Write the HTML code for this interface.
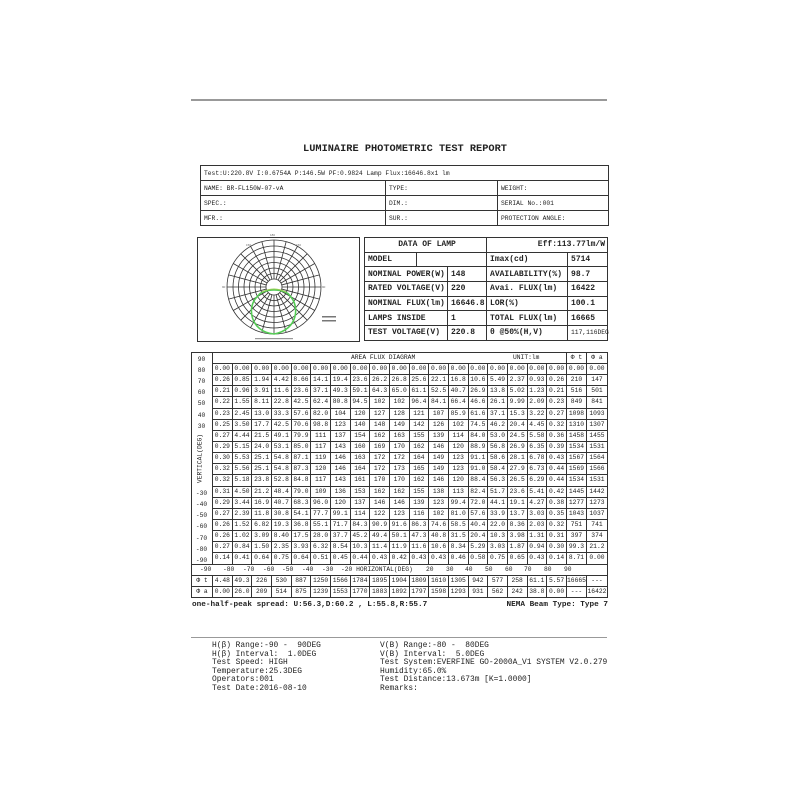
<!DOCTYPE html>
<html><head><meta charset="utf-8"><style>
*{margin:0;padding:0;box-sizing:border-box}
body{width:800px;height:800px;background:#fff;position:relative;overflow:hidden;font-family:"Liberation Mono",monospace;color:#222}
.a{position:absolute;white-space:pre}
table{border-collapse:collapse;table-layout:fixed;position:absolute}
td{border:1px solid #333;overflow:visible;white-space:nowrap;padding:0}
#hd td{font-size:6.3px;padding-left:3px;height:15px}
#lp td{font-size:8px;font-weight:bold;padding-left:3px;height:14.7px}
#fx td{font-size:6.3px;text-align:center;height:11.15px;line-height:10px}
#fx tr.h td{height:8px}
</style></head><body>
<div class="a" style="left:191px;top:99px;width:416px;height:2px;background:#999"></div>
<div class="a" style="left:0;width:810px;top:143px;text-align:center;font-size:10.3px;font-weight:bold">LUMINAIRE PHOTOMETRIC TEST REPORT</div>

<table id="hd" style="left:200px;top:165px;width:408px">
<colgroup><col style="width:185px"><col style="width:112px"><col style="width:111px"></colgroup>
<tr><td colspan="3">Test:U:220.8V I:0.6754A P:146.5W PF:0.9824  Lamp Flux:16646.8x1 lm</td></tr>
<tr><td>NAME: BR-FL150W-07-vA</td><td>TYPE:</td><td>WEIGHT:</td></tr>
<tr><td>SPEC.:</td><td>DIM.:</td><td>SERIAL No.:001</td></tr>
<tr><td>MFR.:</td><td>SUR.:</td><td>PROTECTION ANGLE:</td></tr>
</table>

<svg class="a" style="left:0;top:0" width="800" height="800">
<rect x="197.5" y="237.5" width="162" height="104" fill="none" stroke="#333"/>
<g fill="none" stroke="#333" stroke-width="0.8">
<circle cx="274" cy="287" r="47"/><circle cx="274" cy="287" r="41"/><circle cx="274" cy="287" r="35.5"/><circle cx="274" cy="287" r="30"/><circle cx="274" cy="287" r="24.5"/><circle cx="274" cy="287" r="19"/><circle cx="274" cy="287" r="13.5"/><circle cx="274" cy="287" r="8"/>
<path d="M274 279V240M274 295V334M266 287H227M282 287H321
M276.07 279.27L286.17 241.6M271.93 279.27L261.83 241.6M276.07 294.73L286.17 332.4M271.93 294.73L261.83 332.4
M278 280.07L297.5 246.3M270 280.07L250.5 246.3M278 293.93L297.5 327.7M270 293.93L250.5 327.7
M279.66 281.34L307.2 253.8M268.34 281.34L240.8 253.8M279.66 292.66L307.2 320.2M268.34 292.66L240.8 320.2
M280.93 283L314.7 263.5M267.07 283L233.3 263.5M280.93 291L314.7 310.5M267.07 291L233.3 310.5
M281.73 284.93L319.4 274.83M266.27 284.93L228.6 274.83M281.73 289.07L319.4 299.17M266.27 289.07L228.6 299.17"/>
</g>
<g fill="#666" font-size="3" font-family="Liberation Sans"><text x="270" y="236">180</text><text x="222" y="288">90</text><text x="322" y="288">90</text><text x="246" y="246">150</text><text x="296" y="246">150</text></g>
<path d="M258 296 C262 288 286 288 290 296 C300 306 298 330 274 334 C250 332 246 306 258 296Z" fill="none" stroke="#5c5" stroke-width="1.6"/>
<path d="M262 292 C270 288 278 288 286 292" fill="none" stroke="#9c5" stroke-width="1"/>
<rect x="322" y="316" width="14" height="1.5" fill="#777"/><rect x="322" y="320" width="14" height="1.5" fill="#777"/>
<rect x="255" y="338" width="38" height="1.2" fill="#999"/>
</svg>

<table id="lp" style="left:364px;top:237px;width:243px">
<colgroup><col style="width:52px"><col style="width:31px"><col style="width:39px"><col style="width:81px"><col style="width:40px"></colgroup>
<tr><td colspan="3" style="text-align:center">DATA OF LAMP</td><td colspan="2" style="text-align:right;padding-right:2px">Eff:113.77lm/W</td></tr>
<tr><td>MODEL</td><td colspan="2"></td><td>Imax(cd)</td><td>5714</td></tr>
<tr><td colspan="2">NOMINAL POWER(W)</td><td>148</td><td>AVAILABILITY(%)</td><td>98.7</td></tr>
<tr><td colspan="2">RATED VOLTAGE(V)</td><td>220</td><td>Avai. FLUX(lm)</td><td>16422</td></tr>
<tr><td colspan="2">NOMINAL FLUX(lm)</td><td>16646.8</td><td>LOR(%)</td><td>100.1</td></tr>
<tr><td colspan="2">LAMPS INSIDE</td><td>1</td><td>TOTAL FLUX(lm)</td><td>16665</td></tr>
<tr><td colspan="2">TEST VOLTAGE(V)</td><td>220.8</td><td>θ @50%(H,V)</td><td style="font-size:6.3px;font-weight:normal">117,116DEG</td></tr>
</table>

<table id="fx" style="left:191px;top:352px;width:416px">
<colgroup><col style="width:21px"><col span="18" style="width:19.67px"><col style="width:20px"><col style="width:21px"></colgroup>
<tr class="h"><td rowspan="19" style="border-bottom:1px solid #333"></td><td colspan="18" style="position:relative"><span style="position:absolute;left:138px;top:0">AREA FLUX DIAGRAM</span><span style="position:absolute;left:300px;top:0">UNIT:lm</span></td><td>Φ t</td><td>Φ a</td></tr>
<tr><td>0.00</td><td>0.00</td><td>0.00</td><td>0.00</td><td>0.00</td><td>0.00</td><td>0.00</td><td>0.00</td><td>0.00</td><td>0.00</td><td>0.00</td><td>0.00</td><td>0.00</td><td>0.00</td><td>0.00</td><td>0.00</td><td>0.00</td><td>0.00</td><td>0.00</td><td>0.00</td></tr>
<tr><td>0.26</td><td>0.85</td><td>1.94</td><td>4.42</td><td>8.66</td><td>14.1</td><td>19.4</td><td>23.6</td><td>26.2</td><td>26.8</td><td>25.6</td><td>22.1</td><td>16.8</td><td>10.6</td><td>5.49</td><td>2.37</td><td>0.93</td><td>0.26</td><td>210</td><td>147</td></tr>
<tr><td>0.21</td><td>0.96</td><td>3.91</td><td>11.6</td><td>23.6</td><td>37.1</td><td>49.3</td><td>59.1</td><td>64.3</td><td>65.0</td><td>61.1</td><td>52.5</td><td>40.7</td><td>26.9</td><td>13.8</td><td>5.02</td><td>1.23</td><td>0.21</td><td>516</td><td>501</td></tr>
<tr><td>0.22</td><td>1.55</td><td>8.11</td><td>22.8</td><td>42.5</td><td>62.4</td><td>80.8</td><td>94.5</td><td>102</td><td>102</td><td>96.4</td><td>84.1</td><td>66.4</td><td>46.6</td><td>26.1</td><td>9.99</td><td>2.09</td><td>0.23</td><td>849</td><td>841</td></tr>
<tr><td>0.23</td><td>2.45</td><td>13.0</td><td>33.3</td><td>57.6</td><td>82.0</td><td>104</td><td>120</td><td>127</td><td>128</td><td>121</td><td>107</td><td>85.9</td><td>61.6</td><td>37.1</td><td>15.3</td><td>3.22</td><td>0.27</td><td>1098</td><td>1093</td></tr>
<tr><td>0.25</td><td>3.50</td><td>17.7</td><td>42.5</td><td>70.6</td><td>98.8</td><td>123</td><td>140</td><td>148</td><td>149</td><td>142</td><td>126</td><td>102</td><td>74.5</td><td>46.2</td><td>20.4</td><td>4.45</td><td>0.32</td><td>1310</td><td>1307</td></tr>
<tr><td>0.27</td><td>4.44</td><td>21.5</td><td>49.1</td><td>79.9</td><td>111</td><td>137</td><td>154</td><td>162</td><td>163</td><td>155</td><td>139</td><td>114</td><td>84.0</td><td>53.0</td><td>24.5</td><td>5.58</td><td>0.36</td><td>1458</td><td>1455</td></tr>
<tr><td>0.29</td><td>5.15</td><td>24.0</td><td>53.1</td><td>85.0</td><td>117</td><td>143</td><td>160</td><td>169</td><td>170</td><td>162</td><td>146</td><td>120</td><td>88.9</td><td>56.8</td><td>26.9</td><td>6.35</td><td>0.39</td><td>1534</td><td>1531</td></tr>
<tr><td>0.30</td><td>5.53</td><td>25.1</td><td>54.8</td><td>87.1</td><td>119</td><td>146</td><td>163</td><td>172</td><td>172</td><td>164</td><td>149</td><td>123</td><td>91.1</td><td>58.6</td><td>28.1</td><td>6.78</td><td>0.43</td><td>1567</td><td>1564</td></tr>
<tr><td>0.32</td><td>5.56</td><td>25.1</td><td>54.8</td><td>87.3</td><td>120</td><td>146</td><td>164</td><td>172</td><td>173</td><td>165</td><td>149</td><td>123</td><td>91.0</td><td>58.4</td><td>27.9</td><td>6.73</td><td>0.44</td><td>1569</td><td>1566</td></tr>
<tr><td>0.32</td><td>5.18</td><td>23.8</td><td>52.8</td><td>84.8</td><td>117</td><td>143</td><td>161</td><td>170</td><td>170</td><td>162</td><td>146</td><td>120</td><td>88.4</td><td>56.3</td><td>26.5</td><td>6.29</td><td>0.44</td><td>1534</td><td>1531</td></tr>
<tr><td>0.31</td><td>4.50</td><td>21.2</td><td>48.4</td><td>79.0</td><td>109</td><td>136</td><td>153</td><td>162</td><td>162</td><td>155</td><td>138</td><td>113</td><td>82.4</td><td>51.7</td><td>23.6</td><td>5.41</td><td>0.42</td><td>1445</td><td>1442</td></tr>
<tr><td>0.29</td><td>3.44</td><td>16.9</td><td>40.7</td><td>68.3</td><td>96.0</td><td>120</td><td>137</td><td>146</td><td>146</td><td>139</td><td>123</td><td>99.4</td><td>72.0</td><td>44.1</td><td>19.1</td><td>4.27</td><td>0.38</td><td>1277</td><td>1273</td></tr>
<tr><td>0.27</td><td>2.39</td><td>11.8</td><td>30.8</td><td>54.1</td><td>77.7</td><td>99.1</td><td>114</td><td>122</td><td>123</td><td>116</td><td>102</td><td>81.0</td><td>57.6</td><td>33.9</td><td>13.7</td><td>3.03</td><td>0.35</td><td>1043</td><td>1037</td></tr>
<tr><td>0.26</td><td>1.52</td><td>6.82</td><td>19.3</td><td>36.8</td><td>55.1</td><td>71.7</td><td>84.3</td><td>90.9</td><td>91.6</td><td>86.3</td><td>74.6</td><td>58.5</td><td>40.4</td><td>22.0</td><td>8.36</td><td>2.03</td><td>0.32</td><td>751</td><td>741</td></tr>
<tr><td>0.26</td><td>1.02</td><td>3.09</td><td>8.40</td><td>17.5</td><td>28.0</td><td>37.7</td><td>45.2</td><td>49.4</td><td>50.1</td><td>47.3</td><td>40.8</td><td>31.5</td><td>20.4</td><td>10.3</td><td>3.98</td><td>1.31</td><td>0.31</td><td>397</td><td>374</td></tr>
<tr><td>0.27</td><td>0.84</td><td>1.50</td><td>2.35</td><td>3.93</td><td>6.32</td><td>8.54</td><td>10.3</td><td>11.4</td><td>11.9</td><td>11.6</td><td>10.6</td><td>8.34</td><td>5.29</td><td>3.03</td><td>1.87</td><td>0.94</td><td>0.30</td><td>99.3</td><td>21.2</td></tr>
<tr><td>0.14</td><td>0.41</td><td>0.64</td><td>0.75</td><td>0.64</td><td>0.51</td><td>0.45</td><td>0.44</td><td>0.43</td><td>0.42</td><td>0.43</td><td>0.43</td><td>0.46</td><td>0.58</td><td>0.75</td><td>0.65</td><td>0.43</td><td>0.14</td><td>8.71</td><td>0.00</td></tr>
<tr><td colspan="21" style="position:relative"><span class="a" style="left:8px;top:0">-90</span><span class="a" style="left:31px;top:0">-80</span><span class="a" style="left:51px;top:0">-70</span><span class="a" style="left:71px;top:0">-60</span><span class="a" style="left:90px;top:0">-50</span><span class="a" style="left:110px;top:0">-40</span><span class="a" style="left:130px;top:0">-30</span><span class="a" style="left:149px;top:0">-20 HORIZONTAL(DEG)</span><span class="a" style="left:234px;top:0">20</span><span class="a" style="left:254px;top:0">30</span><span class="a" style="left:273px;top:0">40</span><span class="a" style="left:293px;top:0">50</span><span class="a" style="left:313px;top:0">60</span><span class="a" style="left:332px;top:0">70</span><span class="a" style="left:352px;top:0">80</span><span class="a" style="left:372px;top:0">90</span></td></tr>
<tr><td>Φ t</td><td>4.48</td><td>49.3</td><td>226</td><td>530</td><td>887</td><td>1250</td><td>1566</td><td>1784</td><td>1895</td><td>1904</td><td>1809</td><td>1610</td><td>1305</td><td>942</td><td>577</td><td>258</td><td>61.1</td><td>5.57</td><td>16665</td><td>---</td></tr>
<tr><td>Φ a</td><td>0.00</td><td>26.0</td><td>209</td><td>514</td><td>875</td><td>1239</td><td>1553</td><td>1770</td><td>1883</td><td>1892</td><td>1797</td><td>1598</td><td>1293</td><td>931</td><td>562</td><td>242</td><td>38.8</td><td>0.00</td><td>---</td><td>16422</td></tr>
</table>

<div style="position:absolute;left:191px;top:0;width:21px;font-size:6.3px;text-align:center;line-height:7px">
<div class="a" style="left:0;width:21px;top:356px">90</div><div class="a" style="left:0;width:21px;top:367px">80</div><div class="a" style="left:0;width:21px;top:378px">70</div><div class="a" style="left:0;width:21px;top:389px">60</div><div class="a" style="left:0;width:21px;top:400px">50</div><div class="a" style="left:0;width:21px;top:412px">40</div><div class="a" style="left:0;width:21px;top:423px">30</div>
<div class="a" style="left:0;width:21px;top:490px">-30</div><div class="a" style="left:0;width:21px;top:501px">-40</div><div class="a" style="left:0;width:21px;top:512px">-50</div><div class="a" style="left:0;width:21px;top:523px">-60</div><div class="a" style="left:0;width:21px;top:535px">-70</div><div class="a" style="left:0;width:21px;top:546px">-80</div><div class="a" style="left:0;width:21px;top:557px">-90</div>
</div>
<div class="a" style="left:170px;top:455px;width:60px;text-align:center;font-size:6.3px;transform:rotate(-90deg)">VERTICAL(DEG)</div>

<div class="a" style="left:192px;top:601px;font-size:7.7px;font-weight:bold">one-half-peak spread: U:56.3,D:60.2 , L:55.8,R:55.7</div>
<div class="a" style="left:480px;top:601px;width:128px;text-align:right;font-size:7.7px;font-weight:bold">NEMA Beam Type: Type 7</div>

<div class="a" style="left:191px;top:637px;width:416px;height:1px;background:#999"></div>
<div class="a" style="left:212px;top:642px;font-size:7.9px;line-height:8.6px">H(β) Range:-90 -  90DEG
H(β) Interval:  1.0DEG
Test Speed: HIGH
Temperature:25.3DEG
Operators:001
Test Date:2016-08-10</div>
<div class="a" style="left:380px;top:642px;font-size:7.9px;line-height:8.6px">V(B) Range:-80 -  80DEG
V(B) Interval:  5.0DEG
Test System:EVERFINE GO-2000A_V1 SYSTEM V2.0.279
Humidity:65.0%
Test Distance:13.673m [K=1.0000]
Remarks:</div>
</body></html>
